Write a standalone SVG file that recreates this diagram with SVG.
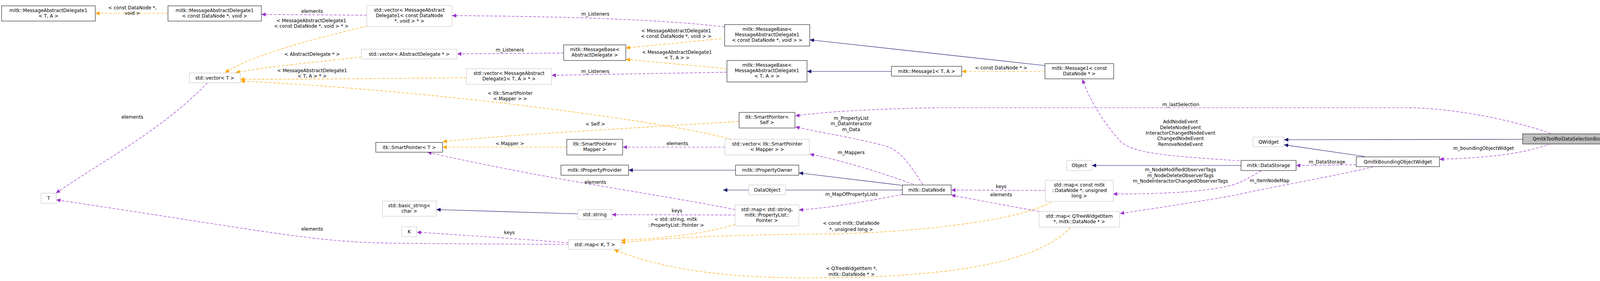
<svg xmlns="http://www.w3.org/2000/svg" width="4133" height="720" viewBox="0 0 4133 720">
<style>
text{font-family:"DejaVu Sans","Liberation Sans",sans-serif;font-size:12px;fill:#000;text-anchor:middle}
.n rect{fill:#fff;stroke:#000;stroke-width:1}
.g rect{fill:#fff;stroke:#bfbfbf;stroke-width:1}
.e path{fill:none;stroke-width:1.2}
.p{stroke:#9a32cd;stroke-dasharray:7,4;marker-end:url(#mp)}
.o{stroke:#ffa500;stroke-dasharray:7,4;marker-end:url(#mo)}
.b{stroke:#191970;marker-end:url(#mb)}
</style>
<defs>
<marker id="mp" markerUnits="userSpaceOnUse" markerWidth="12" markerHeight="10" refX="11" refY="5" orient="auto"><path d="M0,0L11,5L0,10z" fill="#9a32cd"/></marker>
<marker id="mo" markerUnits="userSpaceOnUse" markerWidth="12" markerHeight="10" refX="11" refY="5" orient="auto"><path d="M0,0L11,5L0,10z" fill="#ffa500"/></marker>
<marker id="mb" markerUnits="userSpaceOnUse" markerWidth="12" markerHeight="10" refX="11" refY="5" orient="auto"><path d="M0,0L11,5L0,10z" fill="#191970"/></marker>
</defs>
<rect width="4133" height="720" fill="#fff"/>
<g id="connectors" class="e">
<path class="o" d="M430,34L244,34"/>
<path class="p" d="M939,39L669,37"/>
<path class="o" d="M939,67C800,100 650,140 576,186"/>
<path class="o" d="M925,146C800,160 690,170 603,186"/>
<path class="o" d="M1194,199C1000,201 800,203 615,203"/>
<path class="o" d="M1873,357C1700,310 1100,230 616,208"/>
<path class="p" d="M1443,136L1170,138"/>
<path class="p" d="M1855,69C1700,50 1450,42 1157,40"/>
<path class="o" d="M1847,99L1602,123"/>
<path class="o" d="M1861,176L1602,152"/>
<path class="p" d="M1861,185L1412,193"/>
<path class="b" d="M2675,168L2073,102"/>
<path class="b" d="M2282,183L2066,183"/>
<path class="o" d="M2675,183L2462,183"/>
<path class="p" d="M3173,412C3000,400 2905,395 2869,363C2830,320 2790,260 2771,203"/>
<path class="p" d="M3970,342C3850,300 3700,276 3600,276L2400,276C2200,280 2100,288 2036,297"/>
<path class="p" d="M2362,473C2330,420 2300,380 2262,373C2200,355 2100,340 2036,325"/>
<path class="p" d="M2338,472C2250,440 2150,410 2073,395"/>
<path class="p" d="M1856,377L1594,377"/>
<path class="o" d="M1892,311C1600,330 1300,345 1133,363"/>
<path class="o" d="M1451,377L1133,377"/>
<path class="b" d="M1883,436L1609,436"/>
<path class="b" d="M2310,475L2045,443"/>
<path class="b" d="M2310,487L1851,487"/>
<path class="p" d="M2310,498C2200,520 2100,535 2045,538"/>
<path class="p" d="M1882,537C1700,500 1400,460 1094,390"/>
<path class="p" d="M1882,551L1566,550"/>
<path class="o" d="M1882,575C1800,600 1700,610 1590,616"/>
<path class="b" d="M1479,548L1117,537"/>
<path class="p" d="M1455,622C1300,610 1150,600 1067,595"/>
<path class="p" d="M1455,626C1300,626 1100,624 1002,623C800,620 700,595 144,512"/>
<path class="p" d="M531,212C420,330 250,420 143,495"/>
<path class="o" d="M2691,518C2600,570 2300,600 2070,600C1850,602 1700,610 1590,622"/>
<path class="p" d="M2676,488L2435,487"/>
<path class="p" d="M2660,542L2435,500"/>
<path class="o" d="M2740,583C2650,680 2400,712 2070,712C1850,712 1700,690 1572,640"/>
<path class="b" d="M3177,424L2795,424"/>
<path class="p" d="M3229,437C3200,455 3180,465 3162,472C3100,490 3000,497 2849,497"/>
<path class="p" d="M3472,422L3318,424"/>
<path class="p" d="M3516,427C3450,445 3250,480 3162,500C3050,520 2950,535 2867,547"/>
<path class="b" d="M3494,401L3287,371"/>
<path class="b" d="M3898,357L3287,358"/>
<path class="p" d="M3970,368C3900,395 3800,405 3685,408"/>
</g>
<g id="labels">
<text x="339" y="24">&lt; const DataNode *,</text><text x="339" y="38">void &gt;</text>
<text x="799" y="33">elements</text>
<text x="797" y="57">&lt; MessageAbstractDelegate1</text><text x="797" y="71">&lt; const DataNode *, void &gt; * &gt;</text>
<text x="799" y="143">&lt; AbstractDelegate * &gt;</text>
<text x="799" y="185">&lt; MessageAbstractDelegate1</text><text x="799" y="199">&lt; T, A &gt; * &gt;</text>
<text x="1306" y="243">&lt; itk::SmartPointer</text><text x="1306" y="257">&lt; Mapper &gt; &gt;</text>
<text x="1305" y="132">m_Listeners</text>
<text x="1524" y="40">m_Listeners</text>
<text x="1731" y="83">&lt; MessageAbstractDelegate1</text><text x="1731" y="97">&lt; const DataNode *, void &gt; &gt;</text>
<text x="1733" y="138">&lt; MessageAbstractDelegate1</text><text x="1733" y="152">&lt; T, A &gt; &gt;</text>
<text x="1524" y="187">m_Listeners</text>
<text x="2563" y="178">&lt; const DataNode * &gt;</text>
<text x="3022" y="316">AddNodeEvent</text><text x="3022" y="331">DeleteNodeEvent</text><text x="3022" y="345">InteractorChangedNodeEvent</text><text x="3022" y="359">ChangedNodeEvent</text><text x="3022" y="374">RemoveNodeEvent</text>
<text x="3023" y="272">m_lastSelection</text>
<text x="2179" y="307">m_PropertyList</text><text x="2179" y="321">m_DataInteractor</text><text x="2179" y="336">m_Data</text>
<text x="2179" y="395">m_Mappers</text>
<text x="1734" y="372">elements</text>
<text x="1524" y="322">&lt; Self &gt;</text>
<text x="1305" y="372">&lt; Mapper &gt;</text>
<text x="2180" y="502">m_MapOfPropertyLists</text>
<text x="1524" y="471">elements</text>
<text x="1733" y="544">keys</text>
<text x="1730" y="566">&lt; std::string, mitk</text><text x="1730" y="581">::PropertyList::Pointer &gt;</text>
<text x="1304" y="600">keys</text>
<text x="799" y="591">elements</text>
<text x="339" y="304">elements</text>
<text x="2179" y="576">&lt; const mitk::DataNode</text><text x="2179" y="592">*, unsigned long &gt;</text>
<text x="2563" y="482">keys</text>
<text x="2563" y="503">elements</text>
<text x="2180" y="692">&lt; QTreeWidgetItem *,</text><text x="2180" y="707">mitk::DataNode * &gt;</text>
<text x="3022" y="439">m_NodeModifiedObserverTags</text><text x="3022" y="454">m_NodeDeleteObserverTags</text><text x="3022" y="468">m_NodeInteractorChangedObserverTags</text>
<text x="3397" y="419">m_DataStorage</text>
<text x="3250" y="467">m_ItemNodeMap</text>
<text x="3798" y="384">m_boundingObjectWidget</text>
</g>
<g id="n1" class="n"><rect x="4" y="15" width="240" height="39"/><text x="124" y="31">mitk::MessageAbstractDelegate1</text><text x="124" y="45">&lt; T, A &gt;</text></g>
<g id="n2" class="n"><rect x="430" y="15" width="239" height="39"/><text x="549.5" y="31">mitk::MessageAbstractDelegate1</text><text x="549.5" y="45">&lt; const DataNode *, void &gt;</text></g>
<g id="n3" class="g"><rect x="485" y="187" width="130" height="25"/><text x="550" y="204">std::vector&lt; T &gt;</text></g>
<g id="n4" class="g"><rect x="105" y="495" width="39" height="26"/><text x="124.5" y="512">T</text></g>
<g id="n5" class="g"><rect x="939" y="14" width="218" height="54"/><text x="1048" y="30">std::vector&lt; MessageAbstract</text><text x="1048" y="44">Delegate1&lt; const DataNode</text><text x="1048" y="58">*, void &gt; * &gt;</text></g>
<g id="n6" class="g"><rect x="925" y="126" width="245" height="25"/><text x="1047.5" y="143">std::vector&lt; AbstractDelegate * &gt;</text></g>
<g id="n7" class="g"><rect x="1194" y="176" width="218" height="40"/><text x="1303" y="192">std::vector&lt; MessageAbstract</text><text x="1303" y="206">Delegate1&lt; T, A &gt; * &gt;</text></g>
<g id="n8" class="n"><rect x="962" y="365" width="171" height="25"/><text x="1047.5" y="382">itk::SmartPointer&lt; T &gt;</text></g>
<g id="n9" class="g"><rect x="979" y="515" width="138" height="39"/><text x="1048" y="531">std::basic_string&lt;</text><text x="1048" y="545">char &gt;</text></g>
<g id="n10" class="g"><rect x="1028" y="581" width="39" height="25"/><text x="1047.5" y="598">K</text></g>
<g id="n11" class="n"><rect x="1443" y="115" width="159" height="40"/><text x="1522.5" y="131">mitk::MessageBase&lt;</text><text x="1522.5" y="145">AbstractDelegate &gt;</text></g>
<g id="n12" class="n"><rect x="1855" y="63" width="218" height="55"/><text x="1964" y="79">mitk::MessageBase&lt;</text><text x="1964" y="93">MessageAbstractDelegate1</text><text x="1964" y="107">&lt; const DataNode *, void &gt; &gt;</text></g>
<g id="n13" class="n"><rect x="1861" y="155" width="205" height="55"/><text x="1963.5" y="171">mitk::MessageBase&lt;</text><text x="1963.5" y="185">MessageAbstractDelegate1</text><text x="1963.5" y="199">&lt; T, A &gt; &gt;</text></g>
<g id="n14" class="n"><rect x="1892" y="288" width="143" height="40"/><text x="1963.5" y="304">itk::SmartPointer&lt;</text><text x="1963.5" y="318">Self &gt;</text></g>
<g id="n15" class="n"><rect x="1451" y="357" width="143" height="40"/><text x="1522.5" y="373">itk::SmartPointer&lt;</text><text x="1522.5" y="387">Mapper &gt;</text></g>
<g id="n16" class="g"><rect x="1856" y="357" width="216" height="40"/><text x="1964" y="373">std::vector&lt; itk::SmartPointer</text><text x="1964" y="387">&lt; Mapper &gt; &gt;</text></g>
<g id="n17" class="n"><rect x="1436" y="423" width="173" height="26"/><text x="1522.5" y="440">mitk::IPropertyProvider</text></g>
<g id="n18" class="n"><rect x="1883" y="423" width="162" height="26"/><text x="1964" y="440">mitk::IPropertyOwner</text></g>
<g id="n19" class="g"><rect x="1917" y="474" width="94" height="25"/><text x="1964" y="491">DataObject</text></g>
<g id="n20" class="g"><rect x="1479" y="537" width="87" height="25"/><text x="1522.5" y="554">std::string</text></g>
<g id="n21" class="g"><rect x="1882" y="525" width="163" height="54"/><text x="1963.5" y="541">std::map&lt; std::string,</text><text x="1963.5" y="555">mitk::PropertyList::</text><text x="1963.5" y="569">Pointer &gt;</text></g>
<g id="n22" class="g"><rect x="1455" y="614" width="135" height="25"/><text x="1522.5" y="631">std::map&lt; K, T &gt;</text></g>
<g id="n23" class="n"><rect x="2282" y="170" width="180" height="25"/><text x="2372" y="187">mitk::Message1&lt; T, A &gt;</text></g>
<g id="n24" class="n"><rect x="2675" y="163" width="176" height="39"/><text x="2763" y="179">mitk::Message1&lt; const</text><text x="2763" y="193">DataNode * &gt;</text></g>
<g id="n25" class="n"><rect x="2310" y="474" width="125" height="25"/><text x="2372.5" y="491">mitk::DataNode</text></g>
<g id="n26" class="g"><rect x="2731" y="411" width="64" height="26"/><text x="2763" y="428">Object</text></g>
<g id="n27" class="g"><rect x="2676" y="462" width="174" height="54"/><text x="2763" y="478">std::map&lt; const mitk</text><text x="2763" y="492">::DataNode *, unsigned</text><text x="2763" y="506">long &gt;</text></g>
<g id="n28" class="g"><rect x="2660" y="542" width="206" height="40"/><text x="2763" y="558">std::map&lt; QTreeWidgetItem</text><text x="2763" y="572">*, mitk::DataNode * &gt;</text></g>
<g id="n29" class="n"><rect x="3177" y="411" width="141" height="26"/><text x="3247.5" y="428">mitk::DataStorage</text></g>
<g id="n30" class="g"><rect x="3208" y="351" width="79" height="25"/><text x="3247.5" y="368">QWidget</text></g>
<g id="n31" class="n"><rect x="3472" y="402" width="213" height="25"/><text x="3578.5" y="419">QmitkBoundingObjectWidget</text></g>
<g id="n32" class="n"><rect x="3898" y="343" width="228" height="26" style="fill:#bfbfbf"/><text x="4012" y="360" style="font-size:11.5px">QmitkToolRoiDataSelectionBox</text></g>
</svg>
